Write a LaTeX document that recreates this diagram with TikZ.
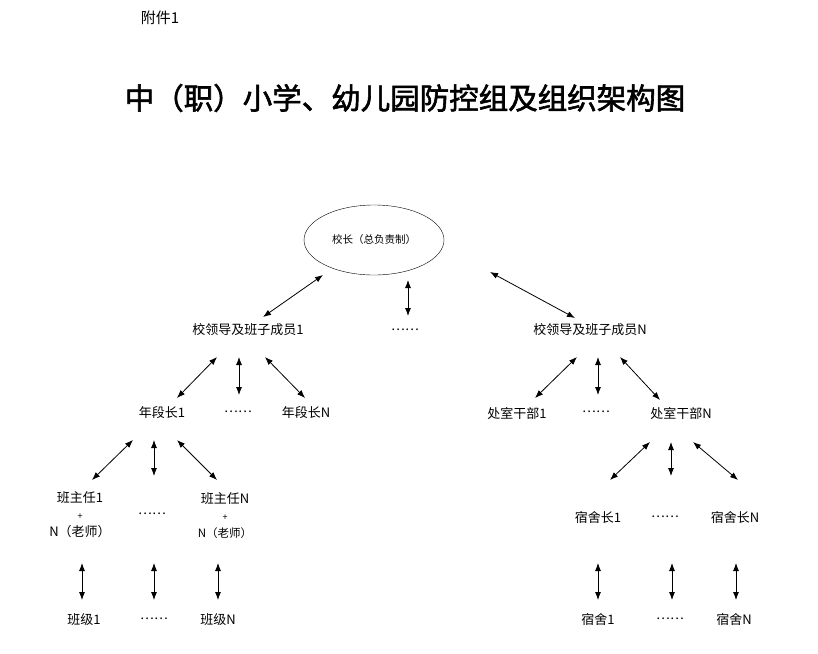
\documentclass[tikz,border=0pt]{standalone}
\usepackage{fontspec}
\setmainfont{Noto Sans CJK SC}
\newfontfamily\titlefont[FakeBold=2]{Noto Sans CJK SC}
\usetikzlibrary{arrows.meta,shapes.geometric}
\begin{document}
\begin{tikzpicture}[x=1pt,y=-1pt]
  \tikzset{
    lbl/.style={inner sep=0pt,font=\fontsize{13}{15}\selectfont},
    arr/.style={{Latex[length=8pt,width=6pt]}-{Latex[length=8pt,width=6pt]},thick}
  }
  \useasboundingbox (0,0) rectangle (818,653);

  \node[lbl,font=\fontsize{15}{17}\selectfont] (att) at (160,18) {附件1};
  \node[inner sep=0pt,font=\titlefont\fontsize{29.5}{32}\selectfont] (title) at (405,98) {中（职）小学、幼儿园防控组及组织架构图};

  \node[draw,ellipse,minimum width=140pt,minimum height=70pt,font=\fontsize{10.5}{12}\selectfont] (boss) at (374,240) {校长（总负责制）};

  % level 1
  \node[lbl] (lead1) at (248,330) {校领导及班子成员1};
  \node[lbl] (ldots) at (405,330) {……};
  \node[lbl] (leadN) at (590,330) {校领导及班子成员N};

  % level 2
  \node[lbl] (grade1) at (162,413) {年段长1};
  \node[lbl] (gdots) at (238,412) {……};
  \node[lbl] (gradeN) at (306,413) {年段长N};
  \node[lbl] (office1) at (517,413) {处室干部1};
  \node[lbl] (odots) at (596,412) {……};
  \node[lbl] (officeN) at (681,413) {处室干部N};

  % level 3
  \node[lbl,align=center] (head1) at (80,515) {班主任1\\[2pt]{\fontsize{9}{10}\selectfont +}\\[2pt]N（老师）};
  \node[lbl] (hdots) at (152,514) {……};
  \node[lbl,align=center] (headN) at (225,516) {班主任N\\[2pt]{\fontsize{9}{10}\selectfont +}\\[2pt]{\fontsize{11.5}{12}\selectfont N（老师）}};
  \node[lbl] (dorm1) at (598,518) {宿舍长1};
  \node[lbl] (ddots) at (665,517) {……};
  \node[lbl] (dormN) at (735,518) {宿舍长N};

  % level 4
  \node[lbl] (class1) at (84,620) {班级1};
  \node[lbl] (cdots) at (154,619) {……};
  \node[lbl] (classN) at (218,620) {班级N};
  \node[lbl] (room1) at (598,620) {宿舍1};
  \node[lbl] (rdots) at (670,619) {……};
  \node[lbl] (roomN) at (734,620) {宿舍N};

  \foreach \xa/\ya/\xb/\yb in {323/275/263/317, 408/280/408/316, 490/272/575/318,
                               217/357/177/398, 239/357/239/395, 265/357/305/398,
                               577/357/535/398, 598/357/598/395, 620/357/660/400,
                               133/440/92/480, 154/440/154/476, 177/440/217/480,
                               650/442/610/480, 671/442/671/476, 693/442/738/480,
                               82/563/82/600, 154/563/154/600, 218/563/218/600,
                               598/563/598/600, 672/563/672/600, 736/563/736/600}
  {
    \draw[arr] (\xa,\ya) -- (\xb,\yb);
  }
\end{tikzpicture}
\end{document}
